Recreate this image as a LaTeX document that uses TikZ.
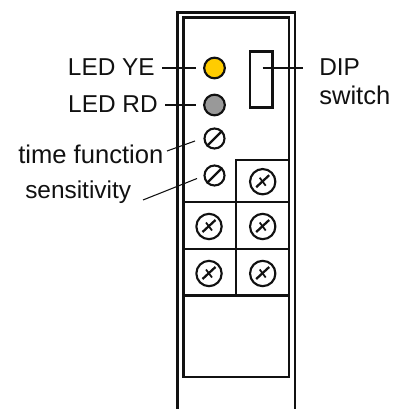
\documentclass[tikz,border=0pt]{standalone}
\usepackage{xcolor}
\usepackage{fontspec}
\setmainfont{Liberation Sans}
\usetikzlibrary{calc}
\definecolor{ink}{HTML}{111111}
\definecolor{ledye}{HTML}{FFCC00}
\definecolor{ledrd}{HTML}{999999}
\tikzset{
  housing/.style={draw=ink, line width=1.6pt, line cap=butt, line join=miter},
  leader/.style={draw=ink, line width=0.8pt},
  led/.style={circle, draw=ink, line width=1.6pt, minimum size=15.5pt, inner sep=0pt},
  trim/.style={circle, draw=ink, line width=1.6pt, minimum size=15pt, inner sep=0pt},
  term/.style={circle, draw=ink, line width=1.6pt, minimum size=19pt, inner sep=0pt},
  slot/.style={draw=ink, line width=1.7pt},
  lab/.style={text=ink, font=\fontsize{18.3pt}{21pt}\selectfont, inner sep=0pt},
  labw/.style={text=ink, font=\fontsize{19.2pt}{21pt}\selectfont, inner sep=0pt},
}
\begin{document}
\begin{tikzpicture}[x=0.75pt, y=-0.75pt]
  \useasboundingbox (0,0) rectangle (403,409);

  % housing
  \draw[housing] (177.5,409) -- (177.5,12.5) -- (295,12.5) -- (295,409);
  \draw[housing] (183.5,17.5) rectangle (289,377);

  % terminal block
  \draw[housing] (236,202) -- (236,160) -- (289,160);
  \draw[housing] (183.5,202) -- (289,202);
  \draw[housing] (183.5,249) -- (289,249);
  \draw[housing] (183.5,295.5) -- (289,295.5);
  \draw[housing] (236,202) -- (236,295.5);

  % LEDs, trimmers, DIP
  \node[led, fill=ledye] (ye) at (214.5,68) {};
  \node[led, fill=ledrd] (rd) at (214.5,105) {};
  \node[trim] (timer) at (214.5,138.5) {};
  \node[trim] (sens) at (214.5,175.5) {};
  \node[draw=ink, line width=1.6pt, minimum width=17pt, minimum height=42pt, inner sep=0pt] (dip) at (261.2,79.5) {};
  \foreach \n in {timer,sens}
    \draw[slot] (\n.225) -- (\n.45);

  % terminal screws
  \foreach \n/\x/\y in {t1/262.7/181.7, t2/209/226.5, t3/262.7/226.5, t4/209/273.5, t5/262.7/273.5} {
    \node[term] (\n) at (\x,\y) {};
    \draw[slot] ($(\n)+(-6.5,5.5)$) -- ($(\n)+(6.5,-6.5)$);
    \draw[slot, line width=1.3pt] ($(\n)+(-3,-4)$) -- ($(\n)+(3,4)$);
  }

  % labels
  \node[lab, anchor=base east] (lye) at (155,76) {LED YE};
  \node[lab, anchor=base east] (lrd) at (158,113) {LED RD};
  \node[labw, anchor=base west] (ltm) at (18,164) {time function};
  \node[lab, anchor=base west] (lse) at (25,199) {sensitivity};
  \node[lab, anchor=base west] (ldip) at (319,76) {DIP};
  \node[labw, anchor=base west] (lsw) at (319,105) {switch};

  \coordinate (yeS) at (162,68);
  \coordinate (yeE) at (195.5,68);
  \coordinate (rdS) at (165,105);
  \coordinate (rdE) at (195.5,105);
  \coordinate (tmS) at (167,151);
  \coordinate (tmE) at (195,141);
  \coordinate (seS) at (143,200);
  \coordinate (seE) at (197,178.5);
  \coordinate (dpS) at (262.7,68);
  \coordinate (dpE) at (303,68);

  \draw[leader] (yeS) -- (yeE);
  \draw[leader] (rdS) -- (rdE);
  \draw[leader] (tmS) -- (tmE);
  \draw[leader] (seS) -- (seE);
  \draw[leader] (dpS) -- (dpE);
\end{tikzpicture}
\end{document}
